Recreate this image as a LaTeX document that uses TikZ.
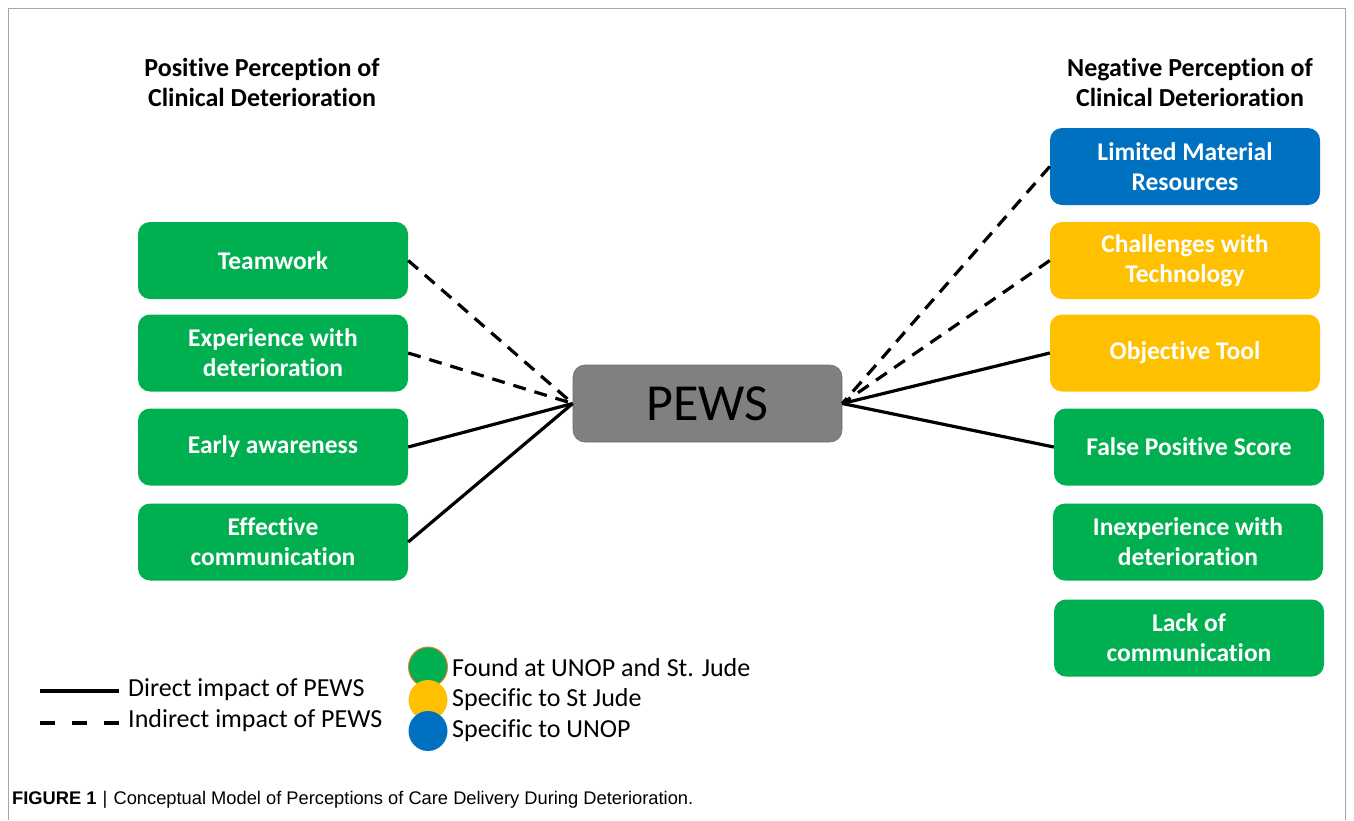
\documentclass[tikz,border=0pt]{standalone}
\usepackage{fontspec}
\setmainfont[Ligatures=NoCommon]{Carlito}
\newfontfamily\capfont{Liberation Sans}
\definecolor{pgreen}{HTML}{00B050}
\definecolor{pyellow}{HTML}{FFC000}
\definecolor{pblue}{HTML}{0070C0}
\definecolor{pgray}{HTML}{808080}
\definecolor{pframe}{HTML}{A6A6A6}
\definecolor{porange}{HTML}{ED7D31}
\tikzset{
  catbox/.style={rounded corners=12pt, minimum width=270pt, minimum height=77pt,
    text=white, font=\fontsize{25.5}{30}\selectfont\bfseries, align=center, inner sep=0pt},
  gbox/.style={catbox, fill=pgreen},
  ybox/.style={catbox, fill=pyellow},
  bbox/.style={catbox, fill=pblue},
  heading/.style={font=\fontsize{26}{30}\selectfont\bfseries, align=center, text=black},
  direct/.style={line width=3.2pt},
  indirect/.style={line width=3.2pt, dash pattern=on 13pt off 9pt},
  legtext/.style={anchor=west, font=\fontsize{26}{30}\selectfont, inner sep=0pt},
  legdot/.style={ellipse, minimum width=39pt, minimum height=40pt, inner sep=0pt},
}
\usetikzlibrary{shapes.geometric}
\begin{document}
\begin{tikzpicture}[x=1pt,y=-1pt]
\useasboundingbox[fill=white] (0,0) rectangle (1354,820);
% frame
\draw[pframe, line width=1pt] (8,820) -- (8,8) -- (1345,8) -- (1345,820);
% headings
\node[heading] (hpos) at (262,82) {Positive Perception of\\Clinical Deterioration};
\node[heading] (hneg) at (1190,82) {Negative Perception of\\Clinical Deterioration};
% PEWS
\node[rounded corners=12pt, fill=pgray, draw=pgray!85!black, line width=0.6pt,
  minimum width=269pt, minimum height=77pt, inner sep=0pt,
  font=\fontsize{52}{60}\selectfont] (pews) at (707.5,403.5) {PEWS};
% left boxes
\node[gbox] (tw) at (273,260.5) {Teamwork};
\node[gbox] (exp) at (273,353) {Experience with\\deterioration};
\node[gbox] (early) at (273,447) {Early awareness};
\node[gbox] (eff) at (273,542) {Effective\\communication};
% right boxes
\node[bbox] (lim) at (1185,166.5) {Limited Material\\Resources};
\node[ybox] (chal) at (1185,260.5) {Challenges with\\Technology};
\node[ybox] (obj) at (1185,353) {Objective Tool};
\node[gbox] (fps) at (1189,447) {False Positive Score};
\node[gbox] (inexp) at (1188,542) {Inexperience with\\deterioration};
\node[gbox] (lack) at (1189,638) {Lack of\\communication};
% connectors
\draw[indirect] (tw.east) -- (pews.west);
\draw[indirect] (exp.east) -- (pews.west);
\draw[direct] (early.east) -- (pews.west);
\draw[direct] (eff.east) -- (pews.west);
\draw[indirect] (lim.west) -- (pews.east);
\draw[indirect] (chal.west) -- (pews.east);
\draw[direct] (obj.west) -- (pews.east);
\draw[direct] (fps.west) -- (pews.east);
% legend
\coordinate (l1a) at (40,691);
\coordinate (l1b) at (119,691);
\coordinate (l2a) at (40,723);
\coordinate (l2b) at (119,723);
\draw[direct] (l1a) -- (l1b);
\draw[line width=3.5pt, dash pattern=on 15pt off 17pt] (l2a) -- (l2b);
\node[legtext] (ld) at (128,690) {Direct impact of PEWS};
\node[legtext] (li) at (128,721) {Indirect impact of PEWS};
\node[legdot, fill=pgreen, draw=porange, line width=1pt] (cg) at (428,667) {};
\node[legdot, fill=pyellow] (cy) at (428,700) {};
\node[legdot, fill=pblue] (cb) at (428,731) {};
\node[legtext] (tg) at (452,668) {Found at UNOP and St. Jude};
\node[legtext] (ty) at (452,700) {Specific to St Jude};
\node[legtext] (tb) at (452,731) {Specific to UNOP};
% caption
\node[anchor=west, inner sep=0pt, font=\capfont\fontsize{18.3}{21}\selectfont] (cap) at (12,800)
  {\textbf{FIGURE 1}\,\,|\,\,Conceptual Model of Perceptions of Care Delivery During Deterioration.};
\end{tikzpicture}
\end{document}
